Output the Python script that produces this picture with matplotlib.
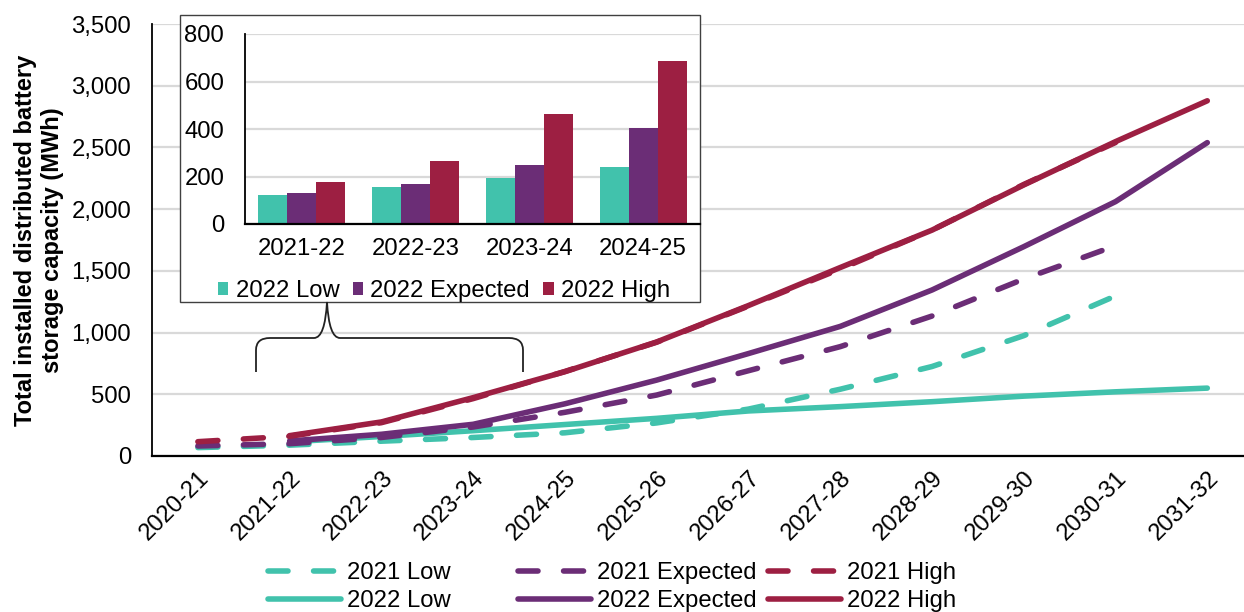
import matplotlib
matplotlib.use("Agg")
import matplotlib.pyplot as plt
from matplotlib.patches import Rectangle, PathPatch
from matplotlib.path import Path
import numpy as np

plt.rcParams['font.family'] = ['Liberation Sans', 'DejaVu Sans']

# ---------------- data ----------------
years = ['2020-21', '2021-22', '2022-23', '2023-24', '2024-25', '2025-26',
         '2026-27', '2027-28', '2028-29', '2029-30', '2030-31', '2031-32']

# 2021 forecasts: 2020-21 .. 2030-31
low_2021 = [68, 88, 120, 150, 188, 268, 380, 541, 725, 975, 1297]
exp_2021 = [81, 100, 150, 235, 354, 494, 691, 886, 1134, 1434, 1704]
high_2021 = [116, 160, 270, 465, 685, 922, 1215, 1515, 1830, 2200, 2540]

# 2022 forecasts: 2021-22 .. 2031-32
low_2022 = [115, 158, 205, 255, 305, 365, 400, 440, 485, 520, 550]
exp_2022 = [122, 176, 257, 423, 615, 830, 1050, 1345, 1696, 2061, 2539]
high_2022 = [165, 276, 473, 683, 924, 1219, 1527, 1830, 2196, 2547, 2878]

# inset bars
inset_years = ['2021-22', '2022-23', '2023-24', '2024-25']
inset_low = [122, 155, 193, 242]
inset_exp = [129, 167, 247, 404]
inset_high = [176, 267, 464, 685]

main_yticks = [0, 500, 1000, 1500, 2000, 2500, 3000, 3500]
inset_yticks = [0, 200, 400, 600, 800]

TEAL = '#41C2AC'
PURPLE = '#6B2D76'
RED = '#9D1F42'
GRID = '#D9D9D9'
FS = 17.2

W, H = 1244, 612
fig = plt.figure(figsize=(W / 100, H / 100), dpi=100)


def fbox(l, t, r, b):
    return [l / W, 1 - b / H, (r - l) / W, (b - t) / H]


# ---------------- main axes ----------------
ax = fig.add_axes(fbox(152, 24, 1244, 456))
x_all = np.arange(len(years))
x21 = x_all[:len(low_2021)]
x22 = x_all[1:1 + len(low_2022)]

lw = 4.0
dash = (0, (3.6, 4.6))
kw_d = dict(lw=lw, ls=dash, dash_capstyle='round', solid_capstyle='round')
kw_s = dict(lw=lw, solid_capstyle='round')

l_low22, = ax.plot(x22, low_2022, color=TEAL, label='2022 Low', **kw_s)
l_exp22, = ax.plot(x22, exp_2022, color=PURPLE, label='2022 Expected', **kw_s)
l_high22, = ax.plot(x22, high_2022, color=RED, label='2022 High', **kw_s)
l_low21, = ax.plot(x21, low_2021, color=TEAL, label='2021 Low', **kw_d)
l_exp21, = ax.plot(x21, exp_2021, color=PURPLE, label='2021 Expected', **kw_d)
l_high21, = ax.plot(x21, high_2021, color=RED, label='2021 High', **kw_d)

ax.set_xlim(-0.5, 11.40)
ax.set_ylim(0, 3500)
ax.set_yticks(main_yticks)
ax.set_yticklabels([f'{v:,}' for v in main_yticks], fontsize=FS)
ax.set_xticks(x_all)
ax.set_xticklabels(years, fontsize=FS, rotation=45, ha='right', va='top',
                   rotation_mode='anchor')
ax.tick_params(axis='y', length=0, pad=15)
ax.tick_params(axis='x', length=0, pad=8)
ax.yaxis.grid(True, color=GRID, lw=1.6)
ax.set_axisbelow(True)
for s in ['top', 'right']:
    ax.spines[s].set_visible(False)
ax.spines['left'].set_linewidth(1.3)
ax.spines['bottom'].set_linewidth(1.6)

fig.text(39 / W, 1 - 240 / H,
         'Total installed distributed battery\nstorage capacity (MWh)',
         rotation=90, ha='center', va='center', fontsize=17,
         fontweight='bold', multialignment='center', linespacing=1.25)

# legends (three columns)
leg_kw = dict(loc='upper left', frameon=False, fontsize=FS, handlelength=3.05,
              handletextpad=0.25, borderpad=0, borderaxespad=0,
              labelspacing=0.25)
cols = [([l_low21, l_low22], 268), ([l_exp21, l_exp22], 518),
        ([l_high21, l_high22], 768)]
for hs, px in cols:
    fig.legend(handles=hs, labels=[h.get_label() for h in hs],
               bbox_to_anchor=(px / W, 1 - 562 / H), **leg_kw)

# ---------------- inset ----------------
box = Rectangle((180 / W, 1 - 302 / H), 520 / W, 287 / H,
                transform=fig.transFigure, facecolor='white',
                edgecolor='#404040', lw=1.0, zorder=2)
fig.patches.append(box)

iax = fig.add_axes(fbox(245, 34, 700, 224), zorder=3)
iax.set_facecolor('none')
xi = np.arange(len(inset_years))
bw = 0.255
b1 = iax.bar(xi - bw, inset_low, bw, color=TEAL, label='2022 Low')
b2 = iax.bar(xi, inset_exp, bw, color=PURPLE, label='2022 Expected')
b3 = iax.bar(xi + bw, inset_high, bw, color=RED, label='2022 High')
iax.set_xlim(-0.5, 3.5)
iax.set_ylim(0, 800)
iax.set_yticks(inset_yticks)
iax.set_yticklabels([str(v) for v in inset_yticks], fontsize=FS)
iax.set_xticks(xi)
iax.set_xticklabels(inset_years, fontsize=FS)
iax.tick_params(axis='y', length=0, pad=15)
iax.tick_params(axis='x', length=0, pad=10)
iax.yaxis.grid(True, color=GRID, lw=1.6)
iax.set_axisbelow(True)
for s in ['top', 'right']:
    iax.spines[s].set_visible(False)
iax.spines['left'].set_linewidth(1.3)
iax.spines['bottom'].set_linewidth(1.6)

ileg = fig.legend(handles=[b1, b2, b3], loc='center', ncol=3,
                  bbox_to_anchor=(444 / W, 1 - 291 / H), frameon=False,
                  fontsize=FS, handlelength=0.45, handleheight=0.45,
                  handletextpad=0.3, columnspacing=0.55, borderpad=0)
ileg.set_zorder(4)

# ---------------- brace annotation ----------------
def P(x, y):
    return (x / W, 1 - y / H)

verts = [P(256, 372), P(256, 350), P(256, 338), P(270, 338),
         P(314, 338), P(325, 338), P(327, 302),
         P(329, 338), P(340, 338),
         P(509, 338), P(523, 338), P(523, 350), P(523, 372)]
codes = [Path.MOVETO, Path.LINETO, Path.CURVE3, Path.CURVE3,
         Path.LINETO, Path.CURVE3, Path.CURVE3,
         Path.CURVE3, Path.CURVE3,
         Path.LINETO, Path.CURVE3, Path.CURVE3, Path.LINETO]
brace = PathPatch(Path(verts, codes), transform=fig.transFigure,
                  facecolor='none', edgecolor='#222222', lw=1.3, zorder=3)
fig.patches.append(brace)

fig.savefig('out.png', dpi=100)
